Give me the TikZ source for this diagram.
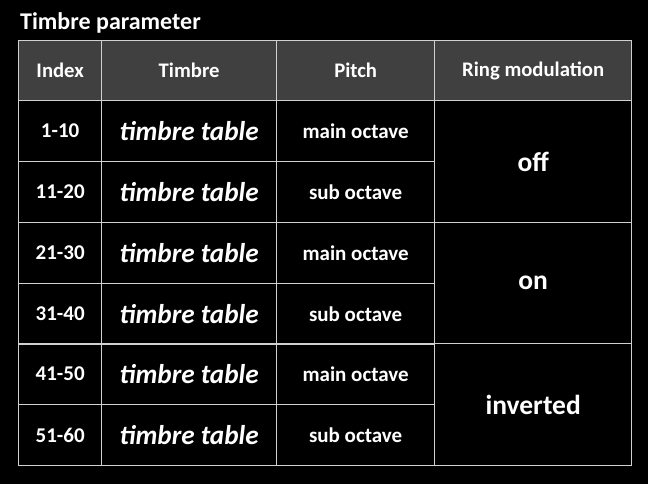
\documentclass[tikz,border=0pt]{standalone}
\usepackage{fontspec}
\setmainfont{Carlito}
\begin{document}
\begin{tikzpicture}[x=1pt,y=-1pt,
  cell/.style={draw=gridline, line width=1.3pt, minimum width=#1, inner sep=0pt, minimum height=61pt, anchor=north west, text=white, font=\bfseries\fontsize{21}{24}\selectfont},
  headcell/.style={cell=#1, fill=headfill, minimum height=60pt, font=\bfseries\fontsize{20.7}{24}\selectfont},
  timbrecell/.style={cell=#1, font=\bfseries\itshape\fontsize{27.2}{30}\selectfont},
  ringcell/.style={cell=#1, minimum height=121pt, font=\bfseries\fontsize{27.5}{30}\selectfont},
  pitchcell/.style={cell=#1, font=\bfseries\fontsize{21}{24}\selectfont}]
\definecolor{gridline}{HTML}{D0D0D0}
\definecolor{headfill}{HTML}{404040}
\fill[black] (0,0) rectangle (648,484);
\useasboundingbox (0,0) rectangle (648,484);
\node[anchor=base west, text=white, font=\bfseries\fontsize{24}{28}\selectfont, inner sep=0pt] (title) at (20,30) {Timbre parameter};
% header
\node[headcell=83pt] (h1) at (18,40) {Index};
\node[headcell=175pt] (h2) at (101,40) {Timbre};
\node[headcell=158pt] (h3) at (276,40) {Pitch};
\node[headcell=197pt] (h4) at (434,40) {Ring modulation};
% rows
\node[cell=83pt] (i1) at (18,100) {1-10};
\node[cell=83pt] (i2) at (18,161) {11-20};
\node[cell=83pt] (i3) at (18,222) {21-30};
\node[cell=83pt] (i4) at (18,283) {31-40};
\node[cell=83pt] (i5) at (18,343) {41-50};
\node[cell=83pt] (i6) at (18,404) {51-60};
\node[timbrecell=175pt] (t1) at (101,100) {timbre table};
\node[timbrecell=175pt] (t2) at (101,161) {timbre table};
\node[timbrecell=175pt] (t3) at (101,222) {timbre table};
\node[timbrecell=175pt] (t4) at (101,283) {timbre table};
\node[timbrecell=175pt] (t5) at (101,343) {timbre table};
\node[timbrecell=175pt] (t6) at (101,404) {timbre table};
\node[pitchcell=158pt] (p1) at (276,100) {main octave};
\node[pitchcell=158pt] (p2) at (276,161) {sub octave};
\node[pitchcell=158pt] (p3) at (276,222) {main octave};
\node[pitchcell=158pt] (p4) at (276,283) {sub octave};
\node[pitchcell=158pt] (p5) at (276,343) {main octave};
\node[pitchcell=158pt] (p6) at (276,404) {sub octave};
\node[ringcell=197pt, minimum height=122pt] (r1) at (434,100) {off};
\node[ringcell=197pt] (r2) at (434,222) {on};
\node[ringcell=197pt, minimum height=122pt] (r3) at (434,343) {inverted};
\end{tikzpicture}
\end{document}
